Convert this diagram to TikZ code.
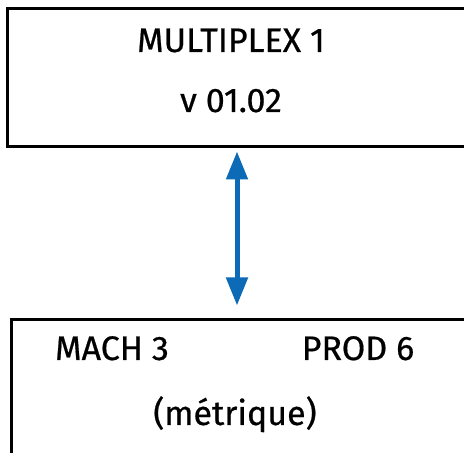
\documentclass[tikz,border=0pt]{standalone}
\usepackage{fontspec}
\setmainfont{Fira Sans}
\newfontfamily\panelfont{Fira Sans}[FakeBold=0.6]
\usepackage{tikz}
\usetikzlibrary{arrows.meta, positioning}
\definecolor{linkblue}{RGB}{12,106,182}

\begin{document}
\begin{tikzpicture}[
    x=1pt, y=1pt,
    every node/.style={font=\panelfont\fontsize{34}{40}\selectfont},
    panel/.style={rectangle, draw=black, line width=3pt, inner sep=0pt},
    label/.style={inner sep=0pt, anchor=base},
    arrow/.style={{Triangle[length=28pt,width=21pt]}-{Triangle[length=28pt,width=21pt]}, line width=5pt, linkblue}
]
\useasboundingbox (0,0) rectangle (464,453);
\clip (0,0) rectangle (464,453);

\node[panel, minimum width=463pt, minimum height=138pt] (multiplex) at (238.5,375) {};
\node[panel, minimum width=463pt, minimum height=150pt] (mach) at (242.5,58) {};

\node[label] (title) at (231,401) {MULTIPLEX 1};
\node[label] (version) at (231,341) {v 01.02};
\node[label] (machine) at (112,93) {MACH 3};
\node[label] (product) at (358,93) {PROD 6};
\node[label] (units) at (235,28) {(métrique)};

% double arrow between the two panels
\coordinate (link top) at ([xshift=-1.5pt, yshift=-3pt]multiplex.south);
\draw[arrow, shorten >=13pt] (link top) -- (link top |- mach.north);
\end{tikzpicture}
\end{document}
